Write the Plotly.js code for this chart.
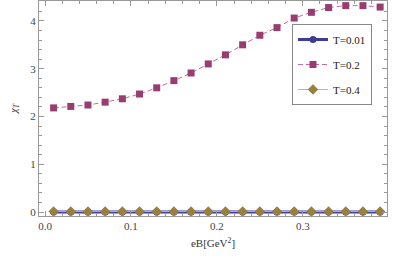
<!DOCTYPE html>
<html><head><meta charset="utf-8">
<script src="https://cdn.plot.ly/plotly-3.0.1.min.js"></script>
<style>html,body{margin:0;padding:0;background:#fff}</style>
</head><body><div id="chart" style="width:415px;height:259px"></div>
<script>
const eB = [0.01,0.03,0.05,0.07,0.09,0.11,0.13,0.15,0.17,0.19,0.21,0.23,0.25,0.27,0.29,0.31,0.33,0.35,0.37,0.39];
const chiT001 = [0,0,0,0,0,0,0,0,0,0,0,0,0,0,0,0,0,0,0,0];
const chiT02 = [2.18,2.21,2.24,2.30,2.37,2.47,2.60,2.75,2.91,3.10,3.29,3.50,3.70,3.86,4.06,4.18,4.28,4.32,4.32,4.29];
const chiT04 = [0.01,0.01,0.01,0.01,0.01,0.01,0.01,0.01,0.01,0.01,0.01,0.01,0.01,0.01,0.01,0.01,0.01,0.01,0.01,0.01];
const names = ["T=0.01","T=0.2","T=0.4"];

const c1="#3d3d99", c2="#993d71", c3="#99803d";
const traces = [
 {x:eB,y:chiT001,name:names[0],legendgroup:"a",mode:"lines+markers",line:{color:c1,width:3},marker:{symbol:"circle",size:7,color:c1}},
 {x:eB,y:chiT02,name:names[1],legendgroup:"b",mode:"lines+markers",line:{color:"#c46b9c",width:1,dash:"5px,3px"},marker:{symbol:"square",size:7,color:c2}},
 {x:eB,y:chiT04,name:names[2],legendgroup:"c",mode:"lines+markers",line:{color:"#c9b77a",width:1},marker:{symbol:"diamond",size:8,color:c3}}
];
const ax = {showgrid:false,zeroline:false,showline:true,linecolor:"#999",linewidth:1,mirror:"allticks",ticks:"inside",ticklen:5,tickcolor:"#999",
  tickfont:{family:"Liberation Serif",size:11,color:"#444"}};
const layout = {
  width:415,height:259,margin:{l:39,r:28,t:1,b:43},paper_bgcolor:"#fff",plot_bgcolor:"#fff",
  font:{family:"Liberation Serif",size:11,color:"#333"},
  xaxis:Object.assign({},ax,{range:[-0.007,0.398],tickvals:[0,0.1,0.2,0.3],ticktext:["0.0","0.1","0.2","0.3"],
    minor:{dtick:0.02,tick0:0,ticks:"inside",ticklen:3,tickcolor:"#999"},
    title:{text:"eB[GeV<sup>2</sup>]",font:{family:"Liberation Serif",size:11,color:"#333"},standoff:8}}),
  yaxis:Object.assign({},ax,{range:[-0.083,4.417],tickvals:[0,1,2,3,4],
    minor:{dtick:0.2,tick0:0,ticks:"inside",ticklen:3,tickcolor:"#999"},
    title:{text:"<i>χ<sub>T</sub></i>",font:{family:"Liberation Serif",size:11,color:"#333"},standoff:10}}),
  showlegend:true,
  legend:{x:0.727,y:0.893,xanchor:"left",yanchor:"top",bgcolor:"#fff",bordercolor:"#888",borderwidth:1,
    font:{family:"Liberation Serif",size:11,color:"#222"},tracegroupgap:6,itemwidth:30}
};
Plotly.newPlot("chart",traces,layout,{displayModeBar:false,staticPlot:true});
</script></body></html>
